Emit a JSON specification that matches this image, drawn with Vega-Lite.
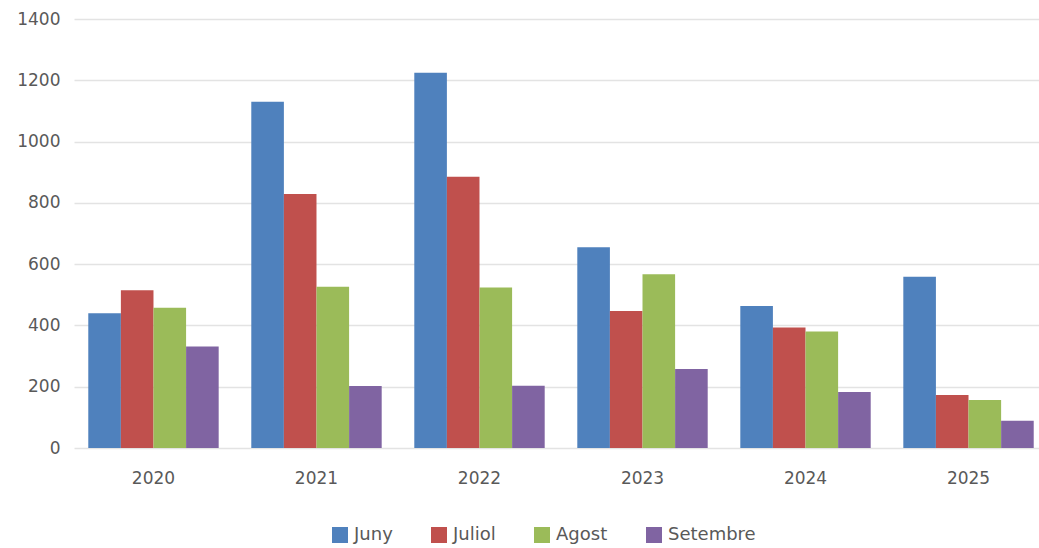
{
  "$schema": "https://vega.github.io/schema/vega-lite/v6.json",
  "width": 965,
  "height": 429,
  "autosize": "none",
  "padding": {"left": 74, "top": 19, "right": 0, "bottom": 100},
  "background": "white",
  "data": {
    "values": [
      {"year": "2020", "mes": "Juny", "v": 440},
      {"year": "2020", "mes": "Juliol", "v": 515},
      {"year": "2020", "mes": "Agost", "v": 458},
      {"year": "2020", "mes": "Setembre", "v": 331},
      {"year": "2021", "mes": "Juny", "v": 1130},
      {"year": "2021", "mes": "Juliol", "v": 829},
      {"year": "2021", "mes": "Agost", "v": 526},
      {"year": "2021", "mes": "Setembre", "v": 202},
      {"year": "2022", "mes": "Juny", "v": 1225},
      {"year": "2022", "mes": "Juliol", "v": 885},
      {"year": "2022", "mes": "Agost", "v": 524},
      {"year": "2022", "mes": "Setembre", "v": 203},
      {"year": "2023", "mes": "Juny", "v": 655},
      {"year": "2023", "mes": "Juliol", "v": 447},
      {"year": "2023", "mes": "Agost", "v": 567},
      {"year": "2023", "mes": "Setembre", "v": 258},
      {"year": "2024", "mes": "Juny", "v": 463},
      {"year": "2024", "mes": "Juliol", "v": 393},
      {"year": "2024", "mes": "Agost", "v": 380},
      {"year": "2024", "mes": "Setembre", "v": 183},
      {"year": "2025", "mes": "Juny", "v": 559},
      {"year": "2025", "mes": "Juliol", "v": 173},
      {"year": "2025", "mes": "Agost", "v": 157},
      {"year": "2025", "mes": "Setembre", "v": 89}
    ]
  },
  "mark": {"type": "bar"},
  "encoding": {
    "x": {
      "field": "year",
      "type": "nominal",
      "title": null,
      "scale": {"paddingInner": 0.2, "paddingOuter": 0.06, "align": 0.73},
      "axis": {
        "labelAngle": 0,
        "ticks": false,
        "domain": false,
        "labelPadding": 22,
        "labelFont": "DejaVu Sans",
        "labelFontSize": 17,
        "labelColor": "#595959"
      }
    },
    "xOffset": {
      "field": "mes",
      "type": "nominal",
      "sort": ["Juny", "Juliol", "Agost", "Setembre"],
      "scale": {"paddingInner": 0, "paddingOuter": 0}
    },
    "y": {
      "field": "v",
      "type": "quantitative",
      "title": null,
      "scale": {"domain": [0, 1400]},
      "axis": {
        "values": [0, 200, 400, 600, 800, 1000, 1200, 1400],
        "format": "d",
        "ticks": false,
        "domain": false,
        "labelPadding": 14,
        "labelFont": "DejaVu Sans",
        "labelFontSize": 17,
        "labelColor": "#595959",
        "gridColor": "#e3e3e3",
        "gridWidth": 1.5
      }
    },
    "color": {
      "field": "mes",
      "type": "nominal",
      "sort": ["Juny", "Juliol", "Agost", "Setembre"],
      "scale": {
        "domain": ["Juny", "Juliol", "Agost", "Setembre"],
        "range": ["#4F81BD", "#C0504D", "#9BBB59", "#8064A2"]
      },
      "legend": {
        "title": null,
        "orient": "none",
        "direction": "horizontal",
        "legendX": 257,
        "legendY": 507,
        "symbolType": "square",
        "symbolSize": 256,
        "symbolStrokeWidth": 0,
        "symbolOpacity": 1,
        "labelFont": "DejaVu Sans",
        "labelFontSize": 18,
        "labelColor": "#595959",
        "labelOffset": 5,
        "columnPadding": 37
      }
    }
  },
  "config": {"view": {"stroke": null}}
}
